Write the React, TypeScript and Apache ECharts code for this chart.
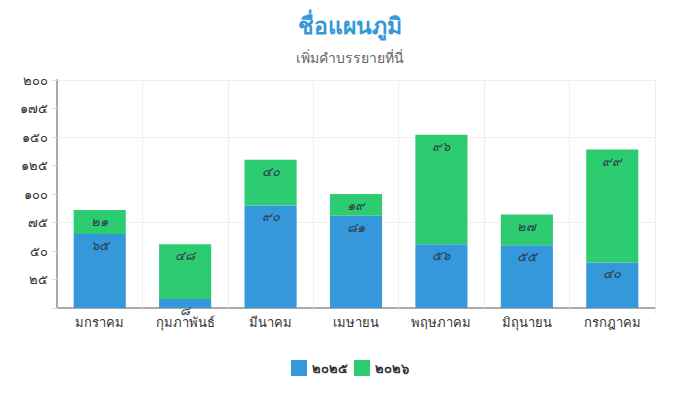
import * as echarts from 'echarts';
import React, { useEffect, useRef } from 'react';

const categories = ['มกราคม', 'กุมภาพันธ์', 'มีนาคม', 'เมษายน', 'พฤษภาคม', 'มิถุนายน', 'กรกฎาคม'];
const seriesNames = ['๒๐๒๕', '๒๐๒๖'];
const values2025 = [65, 8, 90, 81, 56, 55, 40];
const values2026 = [21, 48, 40, 19, 96, 27, 99];

const thaiDigits = ['๐', '๑', '๒', '๓', '๔', '๕', '๖', '๗', '๘', '๙'];
const toThai = (n: number | string) =>
  String(n).replace(/[0-9]/g, (d) => thaiDigits[Number(d)]);

const App: React.FC = () => {
  const chartRef = useRef<HTMLDivElement>(null);

  useEffect(() => {
    let chart: echarts.ECharts | undefined;
    if (chartRef.current) {
      chart = echarts.init(chartRef.current, undefined, { renderer: 'svg' });

      const barLabel = {
        show: true,
        position: 'insideTop' as const,
        color: '#2c3e50',
        fontStyle: 'italic' as const,
        fontSize: 13,
        formatter: (p: any) => toThai(p.value),
      };

      const option: echarts.EChartsOption = {
        animation: false,
        textStyle: { fontFamily: 'sans-serif' },
        title: {
          text: 'ชื่อแผนภูมิ',
          subtext: 'เพิ่มคำบรรยายที่นี่',
          left: 'center',
          top: 1,
          itemGap: 14,
          textStyle: { color: '#3498db', fontSize: 23, fontWeight: 'bold' },
          subtextStyle: { color: '#666', fontSize: 14 },
        },
        legend: {
          bottom: 11,
          left: 'center',
          itemWidth: 16,
          itemHeight: 16,
          itemGap: 6,
          icon: 'rect',
          data: seriesNames,
          textStyle: { color: '#333', fontSize: 13, fontWeight: 'bold' },
        },
        grid: { left: 49, right: 37, top: 72, bottom: 84 },
        xAxis: {
          type: 'category',
          data: categories,
          axisLine: { lineStyle: { color: '#aaa', width: 2 } },
          axisTick: { show: true, length: 6, lineStyle: { color: '#eee' } },
          axisLabel: { color: '#333', fontSize: 13, margin: 8 },
          splitLine: { show: true, lineStyle: { color: '#eee' } },
        },
        yAxis: [
          {
            type: 'value',
            min: 0,
            max: 200,
            interval: 25,
            axisLine: { show: true, lineStyle: { color: '#aaa', width: 2 } },
            axisTick: { show: true, length: 5, lineStyle: { color: '#ddd' } },
            axisLabel: {
              color: '#333',
              fontSize: 13,
              margin: 9,
              formatter: (v: number) => (v === 0 ? '' : toThai(v)),
            },
            splitLine: { show: false },
          },
          {
            // carries only the sparse horizontal grid lines (0, 75, 150)
            type: 'value',
            position: 'left',
            min: 0,
            max: 200,
            interval: 75,
            axisLine: { show: false },
            axisTick: { show: false },
            axisLabel: { show: false },
            splitLine: { show: true, lineStyle: { color: '#eee' } },
          },
        ],
        series: [
          {
            name: seriesNames[0],
            type: 'bar',
            stack: 'total',
            barWidth: '61%',
            data: values2025,
            itemStyle: { color: '#3498db' },
            label: barLabel,
            z: 3,
          },
          {
            name: seriesNames[1],
            type: 'bar',
            stack: 'total',
            barWidth: '61%',
            data: values2026,
            itemStyle: { color: '#2ecc71' },
            label: barLabel,
            z: 3,
          },
        ],
      };

      chart.setOption(option);
    }
    return () => {
      chart?.dispose();
    };
  }, []);

  return <div ref={chartRef} style={{ width: '684px', height: '384px' }} />;
};

export default App;
